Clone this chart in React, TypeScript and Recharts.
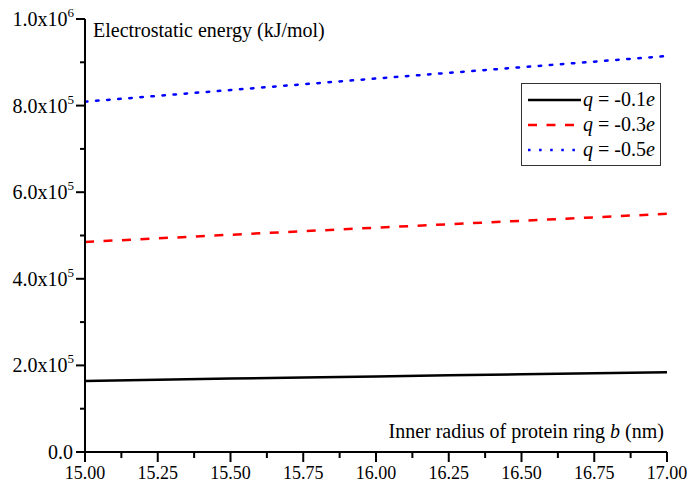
import { LineChart, Line, XAxis, YAxis, Legend, Label } from "recharts";

// inner radius b (nm)
const radii = [15, 15.25, 15.5, 15.75, 16, 16.25, 16.5, 16.75, 17];
// electrostatic energy (kJ/mol) per charge
const energyQ01 = [164000, 166800, 169500, 172100, 174600, 177000, 179400, 181700, 184000];
const energyQ03 = [485000, 493400, 501700, 509900, 518000, 526000, 534000, 542000, 550000];
const energyQ05 = [809000, 822500, 836000, 849300, 862500, 875600, 888600, 901500, 914500];

const xTicks = [15, 15.125, 15.25, 15.375, 15.5, 15.625, 15.75, 15.875, 16, 16.125, 16.25, 16.375, 16.5, 16.625, 16.75, 16.875, 17];
const yTicks = [0, 100000, 200000, 300000, 400000, 500000, 600000, 700000, 800000, 900000, 1000000];

const series = [
  { key: "q01", label: "-0.1", color: "#000000", dash: undefined },
  { key: "q03", label: "-0.3", color: "#ff0000", dash: "9 9.5" },
  { key: "q05", label: "-0.5", color: "#0000ff", dash: "2.5 8.6" },
];

const data = radii.map((b, i) => ({
  b,
  q01: energyQ01[i],
  q03: energyQ03[i],
  q05: energyQ05[i],
}));

const FONT = "Liberation Serif, DejaVu Serif, serif";

const YTick = (props: any) => {
  const { x, y, payload } = props;
  const v = payload.value;
  const major = Math.round(v / 100000) % 2 === 0;
  let label = null;
  if (major) {
    if (v === 0) {
      label = <text x={x - 12} y={y + 7} textAnchor="end" fontSize={20} style={{ fontFamily: FONT }} fill="#000">0.0</text>;
    } else {
      const exp = Math.floor(Math.log10(v));
      const mant = (v / Math.pow(10, exp)).toFixed(1);
      label = (
        <text x={x - 11} y={y + 7} textAnchor="end" fontSize={20} style={{ fontFamily: FONT }} fill="#000">
          {mant}x10
          <tspan dy={-9} fontSize={13}>{exp}</tspan>
        </text>
      );
    }
  }
  return (
    <g>
      <line x1={x - (major ? 9 : 5)} x2={x} y1={y} y2={y} stroke="#000" strokeWidth={2} />
      {label}
    </g>
  );
};

const XTick = (props: any) => {
  const { x, y, payload } = props;
  const v = payload.value;
  const major = Math.abs(v * 4 - Math.round(v * 4)) < 1e-6;
  return (
    <g>
      <line x1={x} x2={x} y1={y} y2={y + (major ? 10 : 6)} stroke="#000" strokeWidth={2} />
      {major && (
        <text x={x} y={y + 27} textAnchor="middle" fontSize={18} style={{ fontFamily: FONT }} fill="#000">
          {v.toFixed(2)}
        </text>
      )}
    </g>
  );
};

const LegendBox = () => (
  <div
    style={{
      border: "1.5px solid #333",
      background: "#fff",
      width: 138,
      padding: "3px 0 3px 0",
      fontFamily: FONT,
      fontSize: 20,
      lineHeight: "25px",
    }}
  >
    {series.map((s) => (
      <div key={s.key} style={{ display: "flex", alignItems: "center", height: 25 }}>
        <svg width={56} height={10} style={{ marginLeft: 5 }}>
          <line x1={1} x2={54} y1={5} y2={5} stroke={s.color} strokeWidth={2.5} strokeDasharray={s.dash} />
        </svg>
        <span>
          <i>q</i> = {s.label}
          <i>e</i>
        </span>
      </div>
    ))}
  </div>
);

export default function App() {
  return (
    <div style={{ position: "absolute", left: 0, top: 0, width: 687, height: 487, background: "#fff", fontFamily: FONT }}>
      <LineChart width={687} height={487} data={data} margin={{ top: 19, right: 20, bottom: 0, left: 0 }}>
        <XAxis
          dataKey="b"
          type="number"
          domain={[15, 17]}
          ticks={xTicks}
          interval={0}
          height={35}
          tickSize={0}
          tickMargin={0}
          tickLine={false}
          axisLine={{ stroke: "#000", strokeWidth: 2 }}
          tick={XTick}
        >
          <Label
            content={({ viewBox }: any) => (
              <text
                x={viewBox.x + viewBox.width - 3}
                y={viewBox.y - 14}
                textAnchor="end"
                fontSize={20}
                style={{ fontFamily: FONT }}
                fill="#000"
              >
                Inner radius of protein ring <tspan fontStyle="italic">b</tspan> (nm)
              </text>
            )}
          />
        </XAxis>
        <YAxis
          type="number"
          domain={[0, 1000000]}
          ticks={yTicks}
          interval={0}
          width={85}
          tickSize={0}
          tickMargin={0}
          tickLine={false}
          axisLine={{ stroke: "#000", strokeWidth: 2 }}
          tick={YTick}
        >
          <Label
            content={({ viewBox }: any) => (
              <text x={viewBox.x + viewBox.width + 8} y={viewBox.y + 18} fontSize={20} style={{ fontFamily: FONT }} fill="#000">
                Electrostatic energy (kJ/mol)
              </text>
            )}
          />
        </YAxis>
        <Legend
          layout="vertical"
          align="center"
          verticalAlign="middle"
          content={LegendBox}
          wrapperStyle={{ position: "absolute", left: 521, top: 83, width: "auto" }}
        />
        {series.map((s) => (
          <Line
            key={s.key}
            dataKey={s.key}
            type="linear"
            stroke={s.color}
            strokeWidth={2.5}
            strokeDasharray={s.dash}
            strokeLinecap={s.key === "q05" ? "round" : "butt"}
            dot={false}
            activeDot={false}
            isAnimationActive={false}
          />
        ))}
      </LineChart>
    </div>
  );
}
